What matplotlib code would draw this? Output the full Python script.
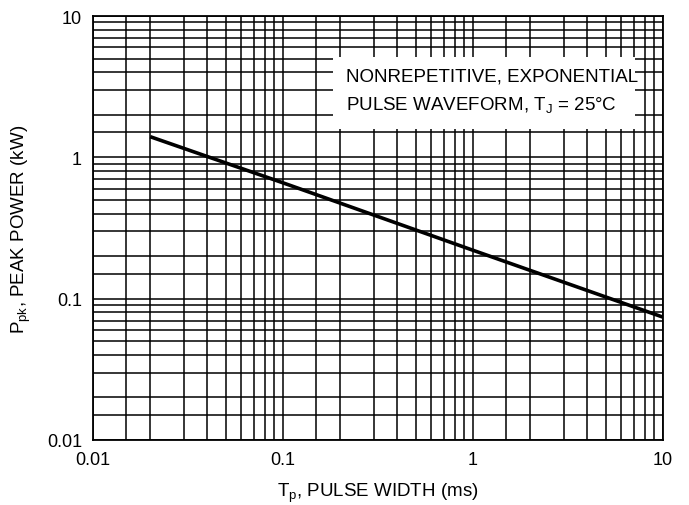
import matplotlib

matplotlib.use("Agg")

import matplotlib.pyplot as plt
from matplotlib.patches import Rectangle
from matplotlib.ticker import FixedLocator, NullFormatter


# pulse width (ms) vs peak power (kW)
PULSE_WIDTH_MS = [0.02, 0.1, 1.0, 10.0]
PEAK_POWER_KW = [1.4, 0.66, 0.22, 0.074]

DECADES = [0.01, 0.1, 1.0, 10.0]
DECADE_LABELS = ["0.01", "0.1", "1", "10"]
GRID_STEPS = [1.5, 2, 3, 4, 5, 6, 7, 8, 9]

FONTS = ["Liberation Sans Narrow", "Liberation Sans", "DejaVu Sans"]

plt.rcParams["font.family"] = FONTS
plt.rcParams["mathtext.fontset"] = "custom"
plt.rcParams["mathtext.rm"] = "Liberation Sans"
plt.rcParams["mathtext.it"] = "Liberation Sans"

fig = plt.figure(figsize=(6.89, 5.06), dpi=100)
ax = fig.add_axes([93 / 689, 1 - 441 / 506, 570 / 689, 424 / 506])

ax.set_xscale("log")
ax.set_yscale("log")
ax.set_xlim(0.01, 10)
ax.set_ylim(0.01, 10)

minor = [d * s for d in DECADES[:-1] for s in GRID_STEPS]
ax.xaxis.set_major_locator(FixedLocator(DECADES))
ax.yaxis.set_major_locator(FixedLocator(DECADES))
ax.xaxis.set_minor_locator(FixedLocator(minor))
ax.yaxis.set_minor_locator(FixedLocator(minor))
ax.xaxis.set_minor_formatter(NullFormatter())
ax.yaxis.set_minor_formatter(NullFormatter())
ax.set_xticklabels(DECADE_LABELS, fontsize=13)
ax.set_yticklabels(DECADE_LABELS, fontsize=13)
ax.tick_params(which="both", length=0, pad=8)

ax.grid(True, which="both", color="black", linewidth=1.1)
ax.set_axisbelow(True)
for spine in ax.spines.values():
    spine.set_linewidth(1.3)

ax.plot(PULSE_WIDTH_MS, PEAK_POWER_KW, color="black", linewidth=2.6,
        solid_capstyle="butt", zorder=5)

ax.add_patch(Rectangle((0.421, 0.733), 0.53, 0.17, transform=ax.transAxes,
                       facecolor="white", edgecolor="none", zorder=4))
ax.text(0.444, 0.858, "NONREPETITIVE, EXPONENTIAL", transform=ax.transAxes,
        fontsize=13.5, va="center", ha="left", zorder=6)
ax.text(0.444, 0.792, r"PULSE WAVEFORM, T$_\mathrm{J}$ = 25°C",
        transform=ax.transAxes, fontsize=13.5, va="center", ha="left", zorder=6)

ax.set_xlabel(r"T$_\mathrm{p}$, PULSE WIDTH (ms)", fontsize=13.5, labelpad=9)
ax.set_ylabel(r"P$_\mathrm{pk}$, PEAK POWER (kW)", fontsize=13.5, labelpad=10)

fig.savefig("out.png", dpi=100)
plt.close(fig)
